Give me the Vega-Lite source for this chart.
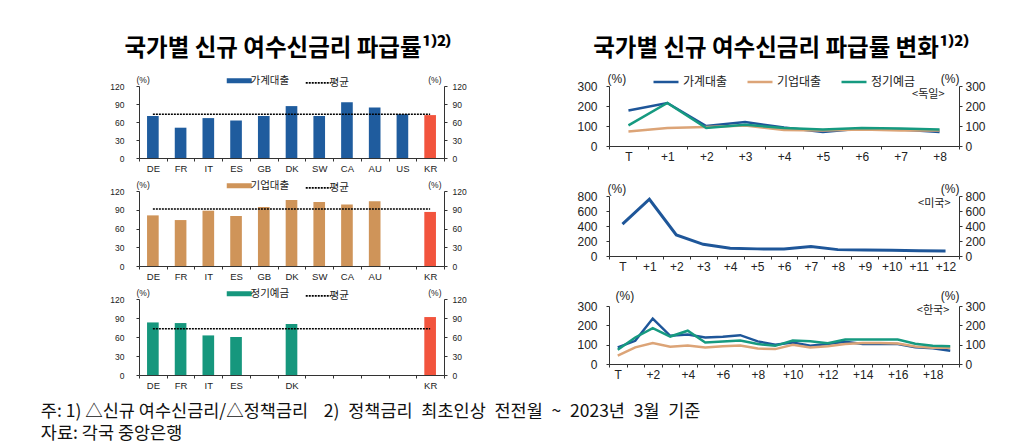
{
  "$schema": "https://vega.github.io/schema/vega-lite/v6.json",
  "padding": {"left": 40, "top": 36, "right": 5, "bottom": 5},
  "background": "white",
  "config": {
    "view": {"stroke": null},
    "axis": {"grid": false, "domainColor": "#333", "tickColor": "#333", "labelColor": "#222", "titleColor": "#222", "labelFont": "Liberation Sans", "titleFont": "Liberation Sans", "titleFontWeight": "normal"},
    "legend": {"labelFont": "Noto Sans CJK KR", "labelColor": "#222", "layout": {"top": {"anchor": "middle"}}},
    "title": {"font": "Noto Sans CJK KR"}
  },
  "title": {
    "text": ["주: 1) △신규 여수신금리/△정책금리\u00a0\u00a0\u00a0 2)\u2002정책금리\u2002최초인상\u2002전전월\u2002~\u20022023년\u20023월\u2002기준", "자료: 각국 중앙은행"],
    "orient": "bottom", "anchor": "start", "frame": "bounds", "dx": -69, "offset": 13,
    "fontSize": 17.5, "fontWeight": "normal", "color": "#111", "lineHeight": 22
  },
  "spacing": 109,
  "resolve": {"scale": {"color": "independent"}, "legend": {"color": "independent"}},
  "hconcat": [
    {
      "title": {"text": "국가별 신규 여수신금리 파급률¹⁾²⁾", "fontSize": 23.5, "fontWeight": "bold", "anchor": "middle", "offset": 15, "color": "#000"},
      "bounds": "flush",
      "spacing": 33,
      "resolve": {"scale": {"color": "independent"}, "legend": {"color": "independent"}},
      "vconcat": [
        {
          "width": 305, "height": 72,
          "resolve": {"axis": {"y": "independent"}},
          "layer": [
            {
              "data": {"values": [
                {"c": "DE", "v": 70, "s": "가계대출"},
                {"c": "FR", "v": 50.5, "s": "가계대출"},
                {"c": "IT", "v": 66.5, "s": "가계대출"},
                {"c": "ES", "v": 62.5, "s": "가계대출"},
                {"c": "GB", "v": 70, "s": "가계대출"},
                {"c": "DK", "v": 86.5, "s": "가계대출"},
                {"c": "SW", "v": 70, "s": "가계대출"},
                {"c": "CA", "v": 93, "s": "가계대출"},
                {"c": "AU", "v": 84, "s": "가계대출"},
                {"c": "US", "v": 73, "s": "가계대출"},
                {"c": "KR", "v": 71.5, "s": "KR"}
              ]},
              "mark": {"type": "bar", "width": {"band": 0.42}},
              "encoding": {
                "x": {"field": "c", "type": "nominal", "sort": null,
                  "scale": {"domain": ["DE","FR","IT","ES","GB","DK","SW","CA","AU","US","KR"], "paddingInner": 0, "paddingOuter": 0},
                  "axis": {"title": null, "labelAngle": 0, "tickBand": "extent", "tickSize": 3, "labelPadding": 2, "labelFontSize": 9.5}},
                "y": {"field": "v", "type": "quantitative", "scale": {"domain": [0, 120]},
                  "axis": {"orient": "left", "values": [0,30,60,90,120], "title": "(%)", "titleAngle": 0, "titleAlign": "left", "titleBaseline": "bottom", "titleX": -3, "titleY": -2, "titleFontSize": 8.5, "labelFontSize": 8.5, "tickSize": 3, "labelPadding": 12}},
                "color": {"field": "s", "type": "nominal",
                  "scale": {"domain": ["가계대출","평균","KR"], "range": ["#1f5c9e","#000000","#f2543d"]},
                  "legend": {"title": null, "orient": "top", "direction": "horizontal", "values": ["가계대출","평균"], "symbolType": "stroke", "symbolSize": 625, "labelFontSize": 10.5, "columnPadding": 12, "labelOffset": 6, "offset": -5, "padding": 0,
                    "encode": {"symbols": {"update": {
                      "stroke": {"signal": "datum.value === '평균' ? '#000000' : '#1f5c9e'"},
                      "strokeWidth": {"signal": "datum.value === '평균' ? 1.6 : 5"},
                      "strokeDash": {"signal": "datum.value === '평균' ? [2,1] : [1,0]"},
                      "fill": {"value": "transparent"}}}}}}
              }
            },
            {
              "data": {"values": [{"a": "DE", "b": "KR", "m": 72.8, "s": "평균"}]},
              "mark": {"type": "rule", "strokeDash": [2, 1], "strokeWidth": 1.6},
              "encoding": {
                "x": {"field": "a", "type": "nominal"},
                "x2": {"field": "b"},
                "y": {"field": "m", "type": "quantitative",
                  "axis": {"orient": "right", "values": [0,30,60,90,120], "title": "(%)", "titleAngle": 0, "titleAlign": "right", "titleBaseline": "bottom", "titleX": -3, "titleY": -2, "titleFontSize": 8.5, "labelFontSize": 8.5, "tickSize": 3, "labelPadding": 5}},
                "color": {"field": "s", "type": "nominal"}
              }
            }
          ]
        },
        {
          "width": 305, "height": 75,
          "resolve": {"axis": {"y": "independent"}},
          "layer": [
            {
              "data": {"values": [
                {"c": "DE", "v": 81, "s": "기업대출"},
                {"c": "FR", "v": 73.5, "s": "기업대출"},
                {"c": "IT", "v": 88.5, "s": "기업대출"},
                {"c": "ES", "v": 80, "s": "기업대출"},
                {"c": "GB", "v": 94.5, "s": "기업대출"},
                {"c": "DK", "v": 105.5, "s": "기업대출"},
                {"c": "SW", "v": 102.5, "s": "기업대출"},
                {"c": "CA", "v": 98.5, "s": "기업대출"},
                {"c": "AU", "v": 103.5, "s": "기업대출"},
                {"c": "KR", "v": 86.5, "s": "KR"}
              ]},
              "mark": {"type": "bar", "width": {"band": 0.42}},
              "encoding": {
                "x": {"field": "c", "type": "nominal", "sort": null,
                  "scale": {"domain": ["DE","FR","IT","ES","GB","DK","SW","CA","AU","US","KR"], "paddingInner": 0, "paddingOuter": 0},
                  "axis": {"title": null, "labelAngle": 0, "tickBand": "extent", "tickSize": 3, "labelPadding": 2, "labelFontSize": 9.5, "labelExpr": "datum.value == 'US' ? '' : datum.label"}},
                "y": {"field": "v", "type": "quantitative", "scale": {"domain": [0, 120]},
                  "axis": {"orient": "left", "values": [0,30,60,90,120], "title": "(%)", "titleAngle": 0, "titleAlign": "left", "titleBaseline": "bottom", "titleX": -3, "titleY": -2, "titleFontSize": 8.5, "labelFontSize": 8.5, "tickSize": 3, "labelPadding": 12}},
                "color": {"field": "s", "type": "nominal",
                  "scale": {"domain": ["기업대출","평균","KR"], "range": ["#cf9459","#000000","#f2543d"]},
                  "legend": {"title": null, "orient": "top", "direction": "horizontal", "values": ["기업대출","평균"], "symbolType": "stroke", "symbolSize": 625, "labelFontSize": 10.5, "columnPadding": 12, "labelOffset": 6, "offset": -5, "padding": 0,
                    "encode": {"symbols": {"update": {
                      "stroke": {"signal": "datum.value === '평균' ? '#000000' : '#cf9459'"},
                      "strokeWidth": {"signal": "datum.value === '평균' ? 1.6 : 5"},
                      "strokeDash": {"signal": "datum.value === '평균' ? [2,1] : [1,0]"},
                      "fill": {"value": "transparent"}}}}}}
              }
            },
            {
              "data": {"values": [{"a": "DE", "b": "KR", "m": 91.2, "s": "평균"}]},
              "mark": {"type": "rule", "strokeDash": [2, 1], "strokeWidth": 1.6},
              "encoding": {
                "x": {"field": "a", "type": "nominal"},
                "x2": {"field": "b"},
                "y": {"field": "m", "type": "quantitative",
                  "axis": {"orient": "right", "values": [0,30,60,90,120], "title": "(%)", "titleAngle": 0, "titleAlign": "right", "titleBaseline": "bottom", "titleX": -3, "titleY": -2, "titleFontSize": 8.5, "labelFontSize": 8.5, "tickSize": 3, "labelPadding": 5}},
                "color": {"field": "s", "type": "nominal"}
              }
            }
          ]
        },
        {
          "width": 305, "height": 76,
          "resolve": {"axis": {"y": "independent"}},
          "layer": [
            {
              "data": {"values": [
                {"c": "DE", "v": 83, "s": "정기예금"},
                {"c": "FR", "v": 82, "s": "정기예금"},
                {"c": "IT", "v": 62.5, "s": "정기예금"},
                {"c": "ES", "v": 60, "s": "정기예금"},
                {"c": "DK", "v": 80.5, "s": "정기예금"},
                {"c": "KR", "v": 91.5, "s": "KR"}
              ]},
              "mark": {"type": "bar", "width": {"band": 0.42}},
              "encoding": {
                "x": {"field": "c", "type": "nominal", "sort": null,
                  "scale": {"domain": ["DE","FR","IT","ES","GB","DK","SW","CA","AU","US","KR"], "paddingInner": 0, "paddingOuter": 0},
                  "axis": {"title": null, "labelAngle": 0, "tickBand": "extent", "tickSize": 3, "labelPadding": 2, "labelFontSize": 9.5, "labelExpr": "indexof(['GB','SW','CA','AU','US'], datum.value) >= 0 ? '' : datum.label"}},
                "y": {"field": "v", "type": "quantitative", "scale": {"domain": [0, 120]},
                  "axis": {"orient": "left", "values": [0,30,60,90,120], "title": "(%)", "titleAngle": 0, "titleAlign": "left", "titleBaseline": "bottom", "titleX": -3, "titleY": -2, "titleFontSize": 8.5, "labelFontSize": 8.5, "tickSize": 3, "labelPadding": 12}},
                "color": {"field": "s", "type": "nominal",
                  "scale": {"domain": ["정기예금","평균","KR"], "range": ["#16977d","#000000","#f2543d"]},
                  "legend": {"title": null, "orient": "top", "direction": "horizontal", "values": ["정기예금","평균"], "symbolType": "stroke", "symbolSize": 625, "labelFontSize": 10.5, "columnPadding": 12, "labelOffset": 6, "offset": -5, "padding": 0,
                    "encode": {"symbols": {"update": {
                      "stroke": {"signal": "datum.value === '평균' ? '#000000' : '#16977d'"},
                      "strokeWidth": {"signal": "datum.value === '평균' ? 1.6 : 5"},
                      "strokeDash": {"signal": "datum.value === '평균' ? [2,1] : [1,0]"},
                      "fill": {"value": "transparent"}}}}}}
              }
            },
            {
              "data": {"values": [{"a": "DE", "b": "KR", "m": 73, "s": "평균"}]},
              "mark": {"type": "rule", "strokeDash": [2, 1], "strokeWidth": 1.6},
              "encoding": {
                "x": {"field": "a", "type": "nominal"},
                "x2": {"field": "b"},
                "y": {"field": "m", "type": "quantitative",
                  "axis": {"orient": "right", "values": [0,30,60,90,120], "title": "(%)", "titleAngle": 0, "titleAlign": "right", "titleBaseline": "bottom", "titleX": -3, "titleY": -2, "titleFontSize": 8.5, "labelFontSize": 8.5, "tickSize": 3, "labelPadding": 5}},
                "color": {"field": "s", "type": "nominal"}
              }
            }
          ]
        }
      ]
    },
    {
      "title": {"text": "국가별 신규 여수신금리 파급률 변화¹⁾²⁾", "fontSize": 23.5, "fontWeight": "bold", "anchor": "middle", "offset": 8, "color": "#000"},
      "bounds": "flush",
      "spacing": 50,
      "resolve": {"scale": {"color": "independent"}, "legend": {"color": "independent"}},
      "vconcat": [
        {
          "width": 350, "height": 60,
          "resolve": {"axis": {"y": "independent"}},
          "layer": [
            {
              "data": {"values": [
                {"t": "T", "v": 178, "s": "가계대출"},
                {"t": "+1", "v": 215, "s": "가계대출"},
                {"t": "+2", "v": 100, "s": "가계대출"},
                {"t": "+3", "v": 120, "s": "가계대출"},
                {"t": "+4", "v": 92, "s": "가계대출"},
                {"t": "+5", "v": 70, "s": "가계대출"},
                {"t": "+6", "v": 87, "s": "가계대출"},
                {"t": "+7", "v": 83, "s": "가계대출"},
                {"t": "+8", "v": 70, "s": "가계대출"},
                {"t": "T", "v": 73, "s": "기업대출"},
                {"t": "+1", "v": 90, "s": "기업대출"},
                {"t": "+2", "v": 95, "s": "기업대출"},
                {"t": "+3", "v": 103, "s": "기업대출"},
                {"t": "+4", "v": 80, "s": "기업대출"},
                {"t": "+5", "v": 78, "s": "기업대출"},
                {"t": "+6", "v": 83, "s": "기업대출"},
                {"t": "+7", "v": 78, "s": "기업대출"},
                {"t": "+8", "v": 77, "s": "기업대출"},
                {"t": "T", "v": 103, "s": "정기예금"},
                {"t": "+1", "v": 215, "s": "정기예금"},
                {"t": "+2", "v": 90, "s": "정기예금"},
                {"t": "+3", "v": 106, "s": "정기예금"},
                {"t": "+4", "v": 90, "s": "정기예금"},
                {"t": "+5", "v": 82, "s": "정기예금"},
                {"t": "+6", "v": 90, "s": "정기예금"},
                {"t": "+7", "v": 87, "s": "정기예금"},
                {"t": "+8", "v": 82, "s": "정기예금"}
              ]},
              "mark": {"type": "line", "strokeWidth": 2.5},
              "encoding": {
                "x": {"field": "t", "type": "ordinal", "bandPosition": 0.5,
                  "scale": {"type": "band", "domain": ["T","+1","+2","+3","+4","+5","+6","+7","+8"], "paddingInner": 0, "paddingOuter": 0},
                  "axis": {"title": null, "labelAngle": 0, "tickBand": "extent", "tickSize": 3, "labelPadding": 2, "labelFontSize": 12}},
                "y": {"field": "v", "type": "quantitative", "scale": {"domain": [0, 300]},
                  "axis": {"orient": "left", "values": [0,100,200,300], "title": "(%)", "titleAngle": 0, "titleAlign": "left", "titleBaseline": "bottom", "titleX": -2, "titleY": -1, "titleFontSize": 12, "labelFontSize": 12, "tickSize": 3, "labelPadding": 9}},
                "color": {"field": "s", "type": "nominal",
                  "scale": {"domain": ["가계대출","기업대출","정기예금"], "range": ["#1e5699","#dca477","#169a80"]},
                  "legend": {"title": null, "orient": "top", "direction": "horizontal", "symbolType": "stroke", "symbolSize": 625, "symbolStrokeWidth": 2.5, "labelFontSize": 12, "columnPadding": 14, "labelOffset": 3, "offset": -2, "padding": 0}},
                "order": {"value": null}
              }
            },
            {
              "data": {"values": [{"t": "+8", "y": 255, "label": "<독일>"}]},
              "mark": {"type": "text", "align": "right", "dx": 5, "font": "Noto Sans CJK KR", "fontSize": 11, "color": "#222"},
              "encoding": {
                "x": {"field": "t", "type": "ordinal"},
                "y": {"field": "y", "type": "quantitative",
                  "axis": {"orient": "right", "values": [0,100,200,300], "title": "(%)", "titleAngle": 0, "titleAlign": "right", "titleBaseline": "bottom", "titleX": 0, "titleY": -1, "titleFontSize": 12, "labelFontSize": 12, "tickSize": 3, "labelPadding": 3}},
                "text": {"field": "label"}
              }
            }
          ]
        },
        {
          "width": 350, "height": 60,
          "resolve": {"axis": {"y": "independent"}},
          "layer": [
            {
              "data": {"values": [
                {"t": "T", "v": 425},
                {"t": "+1", "v": 757},
                {"t": "+2", "v": 280},
                {"t": "+3", "v": 156},
                {"t": "+4", "v": 104},
                {"t": "+5", "v": 95},
                {"t": "+6", "v": 92},
                {"t": "+7", "v": 125},
                {"t": "+8", "v": 85},
                {"t": "+9", "v": 80},
                {"t": "+10", "v": 78},
                {"t": "+11", "v": 70},
                {"t": "+12", "v": 68}
              ]},
              "mark": {"type": "line", "strokeWidth": 3, "color": "#1e5699"},
              "encoding": {
                "x": {"field": "t", "type": "ordinal", "bandPosition": 0.5,
                  "scale": {"type": "band", "domain": ["T","+1","+2","+3","+4","+5","+6","+7","+8","+9","+10","+11","+12"], "paddingInner": 0, "paddingOuter": 0},
                  "axis": {"title": null, "labelAngle": 0, "tickBand": "extent", "tickSize": 3, "labelPadding": 2, "labelFontSize": 12}},
                "y": {"field": "v", "type": "quantitative", "scale": {"domain": [0, 800]},
                  "axis": {"orient": "left", "values": [0,200,400,600,800], "title": "(%)", "titleAngle": 0, "titleAlign": "left", "titleBaseline": "bottom", "titleX": -2, "titleY": -1, "titleFontSize": 12, "labelFontSize": 12, "tickSize": 3, "labelPadding": 9}},
                "order": {"value": null}
              }
            },
            {
              "data": {"values": [{"t": "+12", "y": 690, "label": "<미국>"}]},
              "mark": {"type": "text", "align": "right", "dx": 5, "font": "Noto Sans CJK KR", "fontSize": 11, "color": "#222"},
              "encoding": {
                "x": {"field": "t", "type": "ordinal"},
                "y": {"field": "y", "type": "quantitative",
                  "axis": {"orient": "right", "values": [0,200,400,600,800], "title": "(%)", "titleAngle": 0, "titleAlign": "right", "titleBaseline": "bottom", "titleX": 0, "titleY": -1, "titleFontSize": 12, "labelFontSize": 12, "tickSize": 3, "labelPadding": 3}},
                "text": {"field": "label"}
              }
            }
          ]
        },
        {
          "width": 350, "height": 58,
          "resolve": {"axis": {"y": "independent"}},
          "layer": [
            {
              "data": {"values": [
                {"t": "T", "v": 86, "s": "가계대출"}, {"t": "+1", "v": 120, "s": "가계대출"}, {"t": "+2", "v": 235, "s": "가계대출"}, {"t": "+3", "v": 146, "s": "가계대출"}, {"t": "+4", "v": 152, "s": "가계대출"},
                {"t": "+5", "v": 137, "s": "가계대출"}, {"t": "+6", "v": 141, "s": "가계대출"}, {"t": "+7", "v": 149, "s": "가계대출"}, {"t": "+8", "v": 117, "s": "가계대출"}, {"t": "+9", "v": 100, "s": "가계대출"},
                {"t": "+10", "v": 111, "s": "가계대출"}, {"t": "+11", "v": 94, "s": "가계대출"}, {"t": "+12", "v": 103, "s": "가계대출"}, {"t": "+13", "v": 115, "s": "가계대출"}, {"t": "+14", "v": 103, "s": "가계대출"},
                {"t": "+15", "v": 103, "s": "가계대출"}, {"t": "+16", "v": 103, "s": "가계대출"}, {"t": "+17", "v": 86, "s": "가계대출"}, {"t": "+18", "v": 81, "s": "가계대출"}, {"t": "+19", "v": 69, "s": "가계대출"},
                {"t": "T", "v": 43, "s": "기업대출"}, {"t": "+1", "v": 86, "s": "기업대출"}, {"t": "+2", "v": 109, "s": "기업대출"}, {"t": "+3", "v": 89, "s": "기업대출"}, {"t": "+4", "v": 96, "s": "기업대출"},
                {"t": "+5", "v": 86, "s": "기업대출"}, {"t": "+6", "v": 92, "s": "기업대출"}, {"t": "+7", "v": 96, "s": "기업대출"}, {"t": "+8", "v": 80, "s": "기업대출"}, {"t": "+9", "v": 77, "s": "기업대출"},
                {"t": "+10", "v": 100, "s": "기업대출"}, {"t": "+11", "v": 86, "s": "기업대출"}, {"t": "+12", "v": 92, "s": "기업대출"}, {"t": "+13", "v": 103, "s": "기업대출"}, {"t": "+14", "v": 108, "s": "기업대출"},
                {"t": "+15", "v": 108, "s": "기업대출"}, {"t": "+16", "v": 106, "s": "기업대출"}, {"t": "+17", "v": 90, "s": "기업대출"}, {"t": "+18", "v": 84, "s": "기업대출"}, {"t": "+19", "v": 84, "s": "기업대출"},
                {"t": "T", "v": 74, "s": "정기예금"}, {"t": "+1", "v": 137, "s": "정기예금"}, {"t": "+2", "v": 185, "s": "정기예금"}, {"t": "+3", "v": 142, "s": "정기예금"}, {"t": "+4", "v": 172, "s": "정기예금"},
                {"t": "+5", "v": 111, "s": "정기예금"}, {"t": "+6", "v": 117, "s": "정기예금"}, {"t": "+7", "v": 121, "s": "정기예금"}, {"t": "+8", "v": 103, "s": "정기예금"}, {"t": "+9", "v": 94, "s": "정기예금"},
                {"t": "+10", "v": 121, "s": "정기예금"}, {"t": "+11", "v": 118, "s": "정기예금"}, {"t": "+12", "v": 108, "s": "정기예금"}, {"t": "+13", "v": 127, "s": "정기예금"}, {"t": "+14", "v": 127, "s": "정기예금"},
                {"t": "+15", "v": 127, "s": "정기예금"}, {"t": "+16", "v": 127, "s": "정기예금"}, {"t": "+17", "v": 105, "s": "정기예금"}, {"t": "+18", "v": 94, "s": "정기예금"}, {"t": "+19", "v": 92, "s": "정기예금"}
              ]},
              "mark": {"type": "line", "strokeWidth": 2.5},
              "encoding": {
                "x": {"field": "t", "type": "ordinal", "bandPosition": 0.5,
                  "scale": {"type": "band", "domain": ["T","+1","+2","+3","+4","+5","+6","+7","+8","+9","+10","+11","+12","+13","+14","+15","+16","+17","+18","+19"], "paddingInner": 0, "paddingOuter": 0},
                  "axis": {"title": null, "labelAngle": 0, "tickBand": "extent", "tickSize": 3, "labelPadding": 2, "labelFontSize": 12, "labelExpr": "indexof(['T','+2','+4','+6','+8','+10','+12','+14','+16','+18'], datum.value) >= 0 ? datum.label : ''"}},
                "y": {"field": "v", "type": "quantitative", "scale": {"domain": [0, 300]},
                  "axis": {"orient": "left", "values": [0,100,200,300], "title": "(%)", "titleAngle": 0, "titleAlign": "left", "titleBaseline": "bottom", "titleX": 6, "titleY": -4, "titleFontSize": 12, "labelFontSize": 12, "tickSize": 3, "labelPadding": 9}},
                "color": {"field": "s", "type": "nominal",
                  "scale": {"domain": ["가계대출","기업대출","정기예금"], "range": ["#1e5699","#dca477","#169a80"]},
                  "legend": null},
                "order": {"value": null}
              }
            },
            {
              "data": {"values": [{"t": "+19", "y": 276, "label": "<한국>"}]},
              "mark": {"type": "text", "align": "right", "dx": -1, "font": "Noto Sans CJK KR", "fontSize": 11, "color": "#222"},
              "encoding": {
                "x": {"field": "t", "type": "ordinal"},
                "y": {"field": "y", "type": "quantitative",
                  "axis": {"orient": "right", "values": [0,100,200,300], "title": "(%)", "titleAngle": 0, "titleAlign": "right", "titleBaseline": "bottom", "titleX": 0, "titleY": -4, "titleFontSize": 12, "labelFontSize": 12, "tickSize": 3, "labelPadding": 3}},
                "text": {"field": "label"}
              }
            }
          ]
        }
      ]
    }
  ]
}
